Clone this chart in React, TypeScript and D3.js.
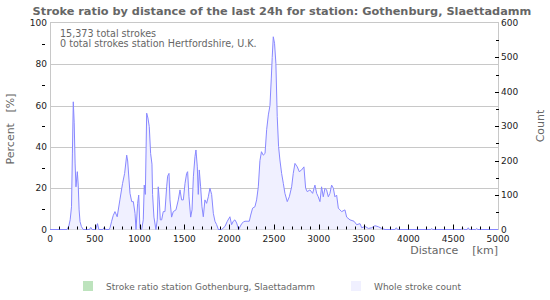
import React from "react";
import * as d3 from "d3";

const distances = [0,190,210,225,240,250,260,270,280,290,305,315,325,335,350,370,440,455,470,510,530,545,590,605,620,660,670,688,705,725,750,780,810,833,856,867,882,893,912,930,949,960,978,990,1004,1023,1041,1052,1064,1079,1093,1108,1123,1138,1145,1160,1182,1197,1208,1220,1231,1246,1264,1283,1302,1313,1328,1339,1357,1376,1406,1432,1451,1469,1488,1507,1525,1536,1551,1570,1585,1600,1618,1629,1644,1655,1666,1681,1696,1711,1729,1748,1767,1785,1804,1823,1841,1860,1879,1916,1953,1979,2008,2027,2045,2064,2083,2105,2125,2142,2160,2176,2200,2224,2240,2261,2287,2306,2325,2343,2360,2380,2400,2418,2437,2455,2470,2480,2492,2506,2521,2536,2551,2566,2585,2604,2622,2648,2671,2697,2715,2734,2760,2782,2808,2834,2853,2871,2901,2931,2957,2976,2994,3013,3031,3050,3069,3087,3106,3124,3143,3162,3180,3199,3218,3236,3255,3292,3311,3348,3393,3423,3460,3479,3516,3553,3590,3627,3665,3702,3739,3850,3865,3880,4250,4260,4270,4590,4605,4620,4655,4668,4680,4750,4762,4775,5000];
const counts = [0,0,10,28,66,222,371,310,193,124,168,129,57,23,9,0,0,6,0,0,17,0,0,6,0,0,5,24,40,52,37,86,134,163,216,199,144,105,81,81,47,0,76,100,3,0,28,129,102,338,324,299,221,190,102,36,0,28,124,86,28,28,52,52,124,155,163,86,36,52,57,86,115,86,86,134,163,168,95,36,57,153,212,231,182,102,173,124,66,37,86,76,95,120,102,47,24,14,0,0,9,24,37,14,24,28,19,0,10,18,22,24,24,24,42,62,66,86,124,200,226,216,221,290,333,360,440,500,560,541,483,328,241,202,163,134,105,81,95,124,163,192,182,168,173,182,120,110,115,105,129,105,95,81,124,95,120,115,95,105,129,120,95,100,62,57,52,57,36,28,24,14,17,5,9,3,5,11,8,3,0,0,5,0,0,3,0,0,4,0,0,5,0,0,3,0,0];

const xTicks = [0,500,1000,1500,2000,2500,3000,3500,4000,4500,5000];
const leftTicks = [0,20,40,60,80,100];
const rightTicks = [0,100,200,300,400,500,600];

const title = "Stroke ratio by distance of the last 24h for station: Gothenburg, Slaettadamm";
const info = ["15,373 total strokes", "0 total strokes station Hertfordshire, U.K."];
const legendItems = ["Stroke ratio station Gothenburg, Slaettadamm", "Whole stroke count"];

export default function App() {
  const W = 550, H = 300;
  const L = 50, R = 498, T = 23, B = 229.5;
  const x = d3.scaleLinear().domain([0, 5000]).range([L, R]);
  const yL = d3.scaleLinear().domain([0, 100]).range([B, T]);
  const yR = d3.scaleLinear().domain([0, 600]).range([B, T]);
  const data = distances.map((d, i) => ({ d, c: counts[i] }));
  const area = d3.area<any>().x(p => x(p.d)).y0(B).y1(p => yR(p.c));
  const line = d3.line<any>().x(p => x(p.d)).y(p => yR(p.c));
  const font = "DejaVu Sans, Verdana, sans-serif";
  const minorX = d3.range(100, 5000, 100).filter(v => v % 500 !== 0);
  const minorL = [10, 30, 50, 70, 90];
  const minorR = [50, 150, 250, 350, 450, 550];
  const crisp = (v: number) => Math.round(v) + 0.5;
  return (
    <svg width={W} height={H} style={{ position: "absolute", left: 0, top: 0 }} fontFamily={font}>
      <rect x={0} y={0} width={W} height={H} fill="#fff" />
      <text x={282} y={15} textAnchor="middle" fontSize={11.3} fontWeight="bold" fill="#666">{title}</text>
      {leftTicks.filter(t => t > 0 && t < 100).map(t => (
        <line key={t} x1={L} x2={R} y1={crisp(yL(t))} y2={crisp(yL(t))} stroke="#c8c8c8" />
      ))}
      <rect x={L + 0.5} y={T - 0.5} width={R - L} height={B - T + 0.5} fill="none" stroke="#c8c8c8" />
      <path d={area(data) || ""} fill="#f0f0ff" />
      <path d={line(data) || ""} fill="none" stroke="#8888ff" strokeWidth={1} />
      {minorX.map(v => (
        <line key={v} x1={crisp(x(v))} x2={crisp(x(v))} y1={B} y2={B - 3} stroke="#000" />
      ))}
      {xTicks.filter(v => v > 0 && v < 5000).map(v => (
        <line key={v} x1={crisp(x(v))} x2={crisp(x(v))} y1={B} y2={B - 5} stroke="#000" />
      ))}
      {xTicks.map(v => (
        <text key={v} x={x(v)} y={242} textAnchor="middle" fontSize={9} fill="#222">{v}</text>
      ))}
      {minorL.map(v => (
        <line key={v} x1={42} x2={45} y1={crisp(yL(v))} y2={crisp(yL(v))} stroke="#000" />
      ))}
      {leftTicks.map(v => (
        <text key={v} x={47} y={yL(v) + 3} textAnchor="end" fontSize={9} fill="#222">{v}</text>
      ))}
      {minorR.map(v => (
        <line key={v} x1={496} x2={499} y1={crisp(yR(v))} y2={crisp(yR(v))} stroke="#000" />
      ))}
      {rightTicks.filter(v => v > 0 && v < 600).map(v => (
        <line key={v} x1={495} x2={499} y1={crisp(yR(v))} y2={crisp(yR(v))} stroke="#000" />
      ))}
      {rightTicks.map(v => (
        <text key={v} x={501} y={yR(v) + 3} textAnchor="start" fontSize={9} fill="#222">{v}</text>
      ))}
      {info.map((t, i) => (
        <text key={i} x={60} y={37 + i * 10} fontSize={9.6} fill="#666">{t}</text>
      ))}
      <text x={498} y={254} textAnchor="end" fontSize={11} fill="#666" style={{ whiteSpace: "pre" }}>{"Distance    [km]"}</text>
      <text transform="translate(14,129) rotate(-90)" textAnchor="middle" fontSize={11} fill="#666" style={{ whiteSpace: "pre" }}>{"Percent   [%]"}</text>
      <text transform="translate(544,126) rotate(-90)" textAnchor="middle" fontSize={11} fill="#666">Count</text>
      <rect x={83} y={281} width={10} height={10} fill="#bde3bd" />
      <text x={106} y={290} fontSize={9} fill="#666">{legendItems[0]}</text>
      <rect x={351} y={281} width={10} height={10} fill="#f0f0ff" />
      <text x={374} y={290} fontSize={9} fill="#666">{legendItems[1]}</text>
    </svg>
  );
}
